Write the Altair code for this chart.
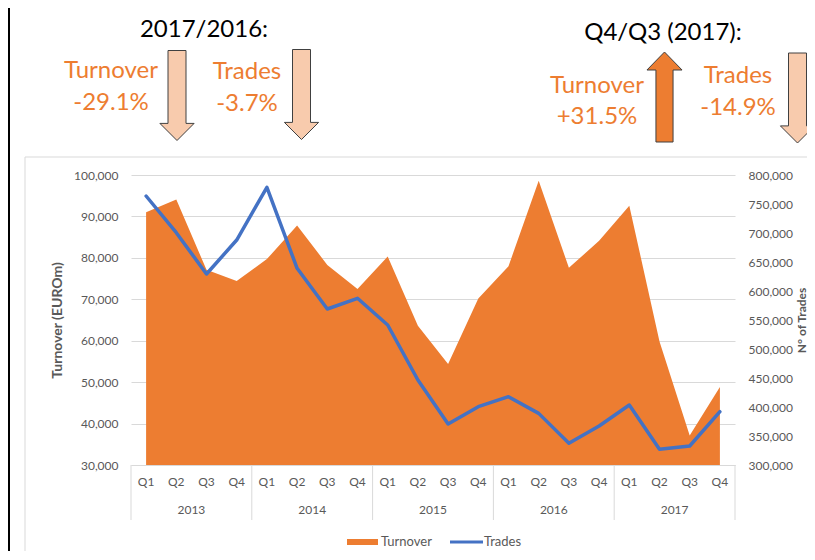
import altair as alt
import pandas as pd

# ---------------- data ----------------
years = ["2013", "2014", "2015", "2016", "2017"]
quarters = ["Q1", "Q2", "Q3", "Q4"]
turnover = [91000, 94100, 77100, 74400, 79700, 87800, 78300, 72500, 80300, 63600,
            54400, 70200, 78000, 98600, 77600, 84100, 92600, 59800, 37100, 48800]
trades = [763800, 700500, 629300, 687900, 778800, 639100, 569000, 587400, 541400, 446600,
          370700, 400500, 417800, 389000, 337400, 367200, 403400, 327000, 332800, 391900]
series = ["Turnover", "Trades"]
left_ticks = [30000, 40000, 50000, 60000, 70000, 80000, 90000, 100000]
right_ticks = [300000, 350000, 400000, 450000, 500000, 550000, 600000, 650000, 700000, 750000, 800000]
head_left = "2017/2016:"
head_right = "Q4/Q3 (2017):"
chg_left = ["-29.1%", "-3.7%"]
chg_right = ["+31.5%", "-14.9%"]

rows = []
for yi, y in enumerate(years):
    for qi, q in enumerate(quarters):
        i = yi * 4 + qi
        rows.append({"idx": i, "year": y, "quarter": q,
                     "turnover": turnover[i], "trades": trades[i]})
df = pd.DataFrame(rows)
seps = pd.DataFrame({"sep": [-0.5] + [df[df.year == y].idx.max() + 0.5 for y in years]})

# ---------------- style ----------------
W, H = 604, 290
ORANGE = "#ED7D31"
BLUE = "#4472C4"
PEACH = "#F8CBAD"
GRAY = "#595959"
GRID = "#D9D9D9"
FONT = "Lato"

xscale = alt.Scale(domain=[-0.5, 19.5], nice=False, zero=False)
xaxis = alt.Axis(title=None, labels=False, ticks=False, grid=False,
                 domain=True, domainColor=GRID, domainWidth=1)


def X(field):
    return alt.X(field, scale=xscale, axis=xaxis)


area = alt.Chart(df).mark_area(color=ORANGE, opacity=1).encode(
    x=X("idx:Q"),
    y=alt.Y("turnover:Q",
            scale=alt.Scale(domain=[30000, 100000], zero=False, nice=False),
            axis=alt.Axis(values=left_ticks, format=",.0f", grid=True, gridColor=GRID,
                          domain=False, ticks=False, labelPadding=13,
                          labelColor=GRAY, labelFontSize=12, labelFont=FONT,
                          title="Turnover (EUROm)", titleFont=FONT, titleFontSize=14,
                          titleFontWeight="bold", titleColor=GRAY,
                          titleAngle=270, titleX=-74, titleY=H / 2,
                          titleAlign="center", titleBaseline="middle")),
    y2=alt.datum(30000),
)

line = alt.Chart(df).mark_line(color=BLUE, strokeWidth=3.5, strokeJoin="round",
                               strokeCap="round").encode(
    x=X("idx:Q"),
    y=alt.Y("trades:Q",
            scale=alt.Scale(domain=[300000, 800000], zero=False, nice=False),
            axis=alt.Axis(orient="right", values=right_ticks, format=",.0f", grid=False,
                          domain=False, ticks=False, labelPadding=13,
                          labelColor=GRAY, labelFontSize=12, labelFont=FONT,
                          title="N° of Trades", titleFont=FONT, titleFontSize=12,
                          titleFontWeight="bold", titleColor=GRAY,
                          titleAngle=270, titleX=66, titleY=H / 2,
                          titleAlign="center", titleBaseline="middle")),
)

qlabels = alt.Chart(df).mark_text(fontSize=12, color=GRAY, font=FONT).encode(
    x=X("idx:Q"), y=alt.value(H + 17), text="quarter:N")

ylabels = alt.Chart(df).transform_aggregate(
    yc="mean(idx)", groupby=["year"]).mark_text(fontSize=12, color=GRAY, font=FONT).encode(
    x=X("yc:Q"), y=alt.value(H + 45), text="year:N")

seprules = alt.Chart(seps).mark_rule(color=GRID, strokeWidth=1).encode(
    x=X("sep:Q"), y=alt.value(H), y2=alt.value(H + 55))


def label(txt, px, py, size=24, color=ORANGE):
    return alt.Chart(pd.DataFrame({"t": [txt]})).mark_text(
        fontSize=size, color=color, font=FONT, align="center", baseline="middle").encode(
        text="t:N", x=alt.value(px), y=alt.value(py))


DOWN = "M-0.2,-1L0.2,-1L0.2,0.62L0.38,0.62L0,1L-0.38,0.62L-0.2,0.62Z"
UP = "M-0.19,1L0.19,1L0.19,-0.6L0.39,-0.6L0,-1L-0.39,-0.6L-0.19,-0.6Z"


def arrow(px, py, shape, fill):
    return alt.Chart(pd.DataFrame({"a": [0]})).mark_point(
        shape=shape, size=8100, filled=True, fill=fill, stroke="#404040",
        strokeWidth=1, opacity=1).encode(x=alt.value(px), y=alt.value(py))


def rule(x1, x2, y1, y2, color, width):
    return alt.Chart(pd.DataFrame({"a": [0]})).mark_rule(color=color, strokeWidth=width).encode(
        x=alt.value(x1), x2=alt.value(x2), y=alt.value(y1), y2=alt.value(y2))


annotations = [
    label(head_left, 73, -145, color="#000000"),
    label(series[0], -20, -104), label(chg_left[0], -20, -72),
    label(series[1], 116, -103), label(chg_left[1], 116, -71),
    label(head_right, 532, -142, color="#000000"),
    label(series[0], 466, -89), label(chg_right[0], 466, -58),
    label(series[1], 607, -99), label(chg_right[1], 607, -67),
    arrow(46, -79.5, DOWN, PEACH),
    arrow(170.5, -80.5, DOWN, PEACH),
    arrow(533.5, -78, UP, ORANGE),
    arrow(666.5, -77, DOWN, PEACH),
]

frame = [
    rule(-106, 700, -18, -18, GRID, 1),
    rule(-106, -106, -18, 400, GRID, 1),
    rule(-122, -122, -170, 400, "#000000", 2),
]

legend_df = pd.DataFrame({"s": series})
legend = [
    rule(216, 247, H + 77, H + 77, ORANGE, 6),
    alt.Chart(legend_df[legend_df.s == series[0]]).mark_text(
        fontSize=13, color=GRAY, font=FONT, align="left", baseline="middle").encode(
        text="s:N", x=alt.value(250), y=alt.value(H + 77)),
    rule(319, 352, H + 77, H + 77, BLUE, 3),
    alt.Chart(legend_df[legend_df.s == series[1]]).mark_text(
        fontSize=13, color=GRAY, font=FONT, align="left", baseline="middle").encode(
        text="s:N", x=alt.value(353), y=alt.value(H + 77)),
]

chart = alt.layer(
    *frame, area, line, seprules, qlabels, ylabels, *annotations, *legend
).resolve_scale(y="independent").properties(
    width=W, height=H,
    autosize=alt.AutoSizeParams(type="none"),
    padding={"left": 123, "top": 167, "right": 72, "bottom": 86},
).configure(font=FONT).configure_view(stroke=None)

chart.save("out.html", embed_options={"renderer": "svg", "actions": False})
